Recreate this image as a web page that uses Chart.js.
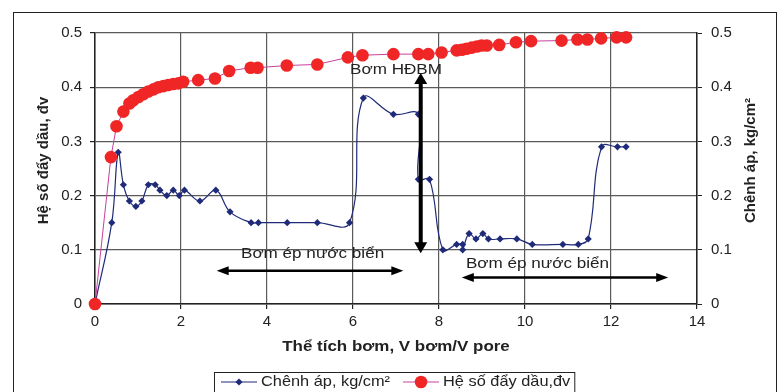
<!DOCTYPE html>
<html>
<head>
<meta charset="utf-8">
<script src="https://cdn.jsdelivr.net/npm/chart.js@4.4.1/dist/chart.umd.min.js"></script>
<style>
  html, body { margin: 0; padding: 0; background: #ffffff; }
  canvas { display: block; }
</style>
</head>
<body>
<canvas id="chart" width="779" height="392"></canvas>
<script>
// Pressure difference across the core (right axis), kg/cm2
const pressureVolume = [0, 0.39, 0.54, 0.66, 0.80, 0.95, 1.09, 1.24, 1.40, 1.51, 1.67, 1.82, 1.96, 2.08,
  2.44, 2.81, 3.14, 3.63, 3.80, 4.47, 5.17, 5.92, 6.24, 6.94, 7.52, 7.52, 7.78, 8.09, 8.41, 8.55, 8.55,
  8.70, 8.86, 9.02, 9.15, 9.42, 9.81, 10.17, 10.88, 11.24, 11.47, 11.78, 12.15, 12.35];
const pressureDiff = [0, 0.15, 0.28, 0.22, 0.19, 0.18, 0.19, 0.22, 0.22, 0.21, 0.20, 0.21, 0.20, 0.21,
  0.19, 0.21, 0.17, 0.15, 0.15, 0.15, 0.15, 0.15, 0.38, 0.35, 0.35, 0.23, 0.23, 0.10, 0.11, 0.11, 0.10,
  0.13, 0.12, 0.13, 0.12, 0.12, 0.12, 0.11, 0.11, 0.11, 0.12, 0.29, 0.29, 0.29];

// Oil displacement factor (left axis)
const recoveryVolume = [0, 0.37, 0.50, 0.66, 0.80, 0.89, 1.01, 1.12, 1.24, 1.36, 1.47, 1.59, 1.70, 1.82,
  1.94, 2.05, 2.40, 2.79, 3.12, 3.62, 3.78, 4.46, 5.17, 5.88, 6.22, 6.94, 7.52, 7.75, 8.06, 8.41, 8.53,
  8.64, 8.76, 8.88, 8.99, 9.11, 9.40, 9.79, 10.14, 10.85, 11.22, 11.45, 11.77, 12.13, 12.35];
const recoveryFactor = [0, 0.271, 0.328, 0.355, 0.370, 0.376, 0.382, 0.387, 0.392, 0.396, 0.400, 0.402,
  0.404, 0.406, 0.407, 0.410, 0.413, 0.416, 0.430, 0.436, 0.436, 0.440, 0.442, 0.455, 0.459, 0.461,
  0.461, 0.461, 0.464, 0.468, 0.469, 0.471, 0.473, 0.475, 0.477, 0.477, 0.478, 0.483, 0.485, 0.486,
  0.488, 0.488, 0.490, 0.492, 0.492];

const seriesNames = ['Chênh áp, kg/cm²', 'Hệ số đẩy dầu,đv'];
const xTickValues = [0, 2, 4, 6, 8, 10, 12, 14];
const yTickValues = [0, 0.1, 0.2, 0.3, 0.4, 0.5];

const xTitle = 'Thể tích bơm, V bơm/V pore';
const yLeftTitle = 'Hệ số đẩy dầu, đv';
const yRightTitle = 'Chênh áp, kg/cm²';

// Injection stage notes, placed in data units
const stageLabels = [
  { text: 'Bơm HĐBM', x: 7.0, y: 0.432 },
  { text: 'Bơm ép nước biển', x: 5.06, y: 0.092 },
  { text: 'Bơm ép nước biển', x: 10.29, y: 0.074 }
];
const stageArrows = [
  { x1: 7.575, y1: 0.426, x2: 7.575, y2: 0.0935, width: 4, head: 11, half: 6.5 },
  { x1: 2.83, y1: 0.0614, x2: 7.17, y2: 0.0614, width: 2.5, head: 12, half: 4.5 },
  { x1: 8.53, y1: 0.049, x2: 13.33, y2: 0.049, width: 2.5, head: 12, half: 4.5 }
];

const FONT = "'Liberation Sans', Arial, sans-serif";
const INK = '#222222';
const GRID = '#5a5a5a';
const PRESSURE_COLOR = '#1f2a78';
const RECOVERY_LINE = '#c8409c';
const RECOVERY_DOT = '#f02626';

function toPoints(xs, ys) {
  return xs.map((x, i) => ({ x: x, y: ys[i] }));
}

// Text drawn slightly wide, like the rest of the lettering on this sheet
function wideText(ctx, text, x, y, stretch) {
  ctx.save();
  ctx.translate(x, y);
  ctx.scale(stretch, 1);
  ctx.fillText(text, 0, 0);
  ctx.restore();
}

function drawDoubleArrow(ctx, a, b, lw, head, half) {
  const ang = Math.atan2(b.y - a.y, b.x - a.x);
  const ux = Math.cos(ang), uy = Math.sin(ang);
  ctx.save();
  ctx.strokeStyle = '#000';
  ctx.fillStyle = '#000';
  ctx.lineWidth = lw;
  ctx.beginPath();
  ctx.moveTo(a.x + ux * (head - 2), a.y + uy * (head - 2));
  ctx.lineTo(b.x - ux * (head - 2), b.y - uy * (head - 2));
  ctx.stroke();
  [[a, -1], [b, 1]].forEach(([p, dir]) => {
    const bx = p.x - dir * ux * head, by = p.y - dir * uy * head;
    ctx.beginPath();
    ctx.moveTo(p.x, p.y);
    ctx.lineTo(bx - uy * half, by + ux * half);
    ctx.lineTo(bx + uy * half, by - ux * half);
    ctx.closePath();
    ctx.fill();
  });
  ctx.restore();
}

const decorations = {
  id: 'decorations',
  beforeDraw(chart) {
    const ctx = chart.ctx;
    ctx.save();
    ctx.fillStyle = '#ffffff';
    ctx.fillRect(0, 0, chart.width, chart.height);
    ctx.strokeStyle = INK;
    ctx.lineWidth = 1;
    ctx.strokeRect(13.5, 12.5, 763, 395);
    ctx.restore();
  },
  afterDatasetsDraw(chart) {
    const ctx = chart.ctx;
    const sx = chart.scales.x, sy = chart.scales.y;
    stageArrows.forEach(a => {
      drawDoubleArrow(ctx,
        { x: sx.getPixelForValue(a.x1), y: sy.getPixelForValue(a.y1) },
        { x: sx.getPixelForValue(a.x2), y: sy.getPixelForValue(a.y2) },
        a.width, a.head, a.half);
    });
    ctx.save();
    ctx.fillStyle = INK;
    ctx.font = '15px ' + FONT;
    ctx.textAlign = 'center';
    ctx.textBaseline = 'middle';
    stageLabels.forEach(l => {
      wideText(ctx, l.text, sx.getPixelForValue(l.x), sy.getPixelForValue(l.y), 1.14);
    });
    ctx.restore();
  },
  afterDraw(chart) {
    const ctx = chart.ctx;
    const area = chart.chartArea;
    const midY = (area.top + area.bottom) / 2 - 8;
    ctx.save();
    ctx.fillStyle = INK;
    ctx.font = 'bold 15px ' + FONT;
    ctx.textAlign = 'center';
    ctx.textBaseline = 'middle';
    // Vertical axis titles, both reading bottom to top
    [[44, yLeftTitle], [751, yRightTitle]].forEach(([x, t]) => {
      ctx.save();
      ctx.translate(x, midY);
      ctx.rotate(-Math.PI / 2);
      ctx.fillText(t, 0, 0);
      ctx.restore();
    });
    // Horizontal axis title
    wideText(ctx, xTitle, (area.left + area.right) / 2, 347, 1.13);
    ctx.restore();

    // Legend box below the axis title
    const ds = chart.data.datasets;
    const stretch = 1.09;
    ctx.save();
    ctx.font = '15px ' + FONT;
    ctx.textBaseline = 'middle';
    ctx.textAlign = 'left';
    const ly = 382;
    let x = 221;
    const starts = [];
    ds.forEach(d => {
      starts.push(x);
      x += 36 + 4 + ctx.measureText(d.label).width * stretch + 13;
    });
    const boxL = 214, boxR = x - 13 + 4;
    ctx.strokeStyle = INK;
    ctx.lineWidth = 1;
    ctx.strokeRect(boxL + 0.5, 372.5, boxR - boxL, 30);
    ds.forEach((d, i) => {
      const x0 = starts[i];
      ctx.strokeStyle = d.borderColor;
      ctx.lineWidth = d.borderWidth;
      ctx.beginPath();
      ctx.moveTo(x0, ly);
      ctx.lineTo(x0 + 36, ly);
      ctx.stroke();
      ctx.fillStyle = d.pointBackgroundColor;
      const cx = x0 + 18;
      ctx.beginPath();
      if (d.pointStyle === 'rectRot') {
        const r = d.pointRadius;
        ctx.moveTo(cx, ly - r); ctx.lineTo(cx + r, ly); ctx.lineTo(cx, ly + r); ctx.lineTo(cx - r, ly);
        ctx.closePath();
      } else {
        ctx.arc(cx, ly, d.pointRadius, 0, Math.PI * 2);
      }
      ctx.fill();
      ctx.fillStyle = INK;
      wideText(ctx, d.label, x0 + 40, ly, stretch);
    });
    ctx.restore();
  }
};

new Chart(document.getElementById('chart'), {
  type: 'line',
  data: {
    datasets: [
      {
        label: seriesNames[0],
        data: toPoints(pressureVolume, pressureDiff),
        yAxisID: 'y1',
        borderColor: PRESSURE_COLOR,
        borderWidth: 1.2,
        tension: 0.4,
        pointStyle: 'rectRot',
        pointRadius: 3.6,
        pointBackgroundColor: PRESSURE_COLOR,
        pointBorderColor: PRESSURE_COLOR,
        pointBorderWidth: 0,
        clip: false,
        order: 2
      },
      {
        label: seriesNames[1],
        data: toPoints(recoveryVolume, recoveryFactor),
        yAxisID: 'y',
        borderColor: RECOVERY_LINE,
        borderWidth: 1,
        tension: 0,
        pointStyle: 'circle',
        pointRadius: 6.3,
        pointBackgroundColor: RECOVERY_DOT,
        pointBorderColor: RECOVERY_DOT,
        pointBorderWidth: 0,
        clip: false,
        order: 1
      }
    ]
  },
  options: {
    responsive: false,
    animation: false,
    layout: { padding: { left: 13, right: 3, top: 33, bottom: 28 } },
    plugins: { legend: { display: false }, tooltip: { enabled: false } },
    scales: {
      x: {
        type: 'linear',
        min: 0, max: 14,
        afterBuildTicks: s => { s.ticks = xTickValues.map(v => ({ value: v })); },
        afterFit: s => { s.height = 60; },
        grid: { color: GRID, lineWidth: 1.2, tickColor: INK, tickLength: 5 },
        border: { color: INK, width: 1.5 },
        ticks: { color: INK, padding: 4, maxRotation: 0, font: { family: FONT, size: 15 } }
      },
      y: {
        position: 'left',
        min: 0, max: 0.5,
        afterBuildTicks: s => { s.ticks = yTickValues.map(v => ({ value: v })); },
        afterFit: s => { s.width = 82; },
        grid: { color: GRID, lineWidth: 1.2, tickColor: INK, tickLength: 5 },
        border: { color: INK, width: 1.5 },
        ticks: { color: INK, padding: 8, font: { family: FONT, size: 15 } }
      },
      y1: {
        position: 'right',
        min: 0, max: 0.5,
        afterBuildTicks: s => { s.ticks = yTickValues.map(v => ({ value: v })); },
        afterFit: s => { s.width = 79; },
        grid: { drawOnChartArea: false, tickColor: INK, tickLength: 5 },
        border: { color: INK, width: 1.5 },
        ticks: { color: INK, padding: 9, font: { family: FONT, size: 15 } }
      }
    }
  },
  plugins: [decorations]
});
</script>
</body>
</html>
